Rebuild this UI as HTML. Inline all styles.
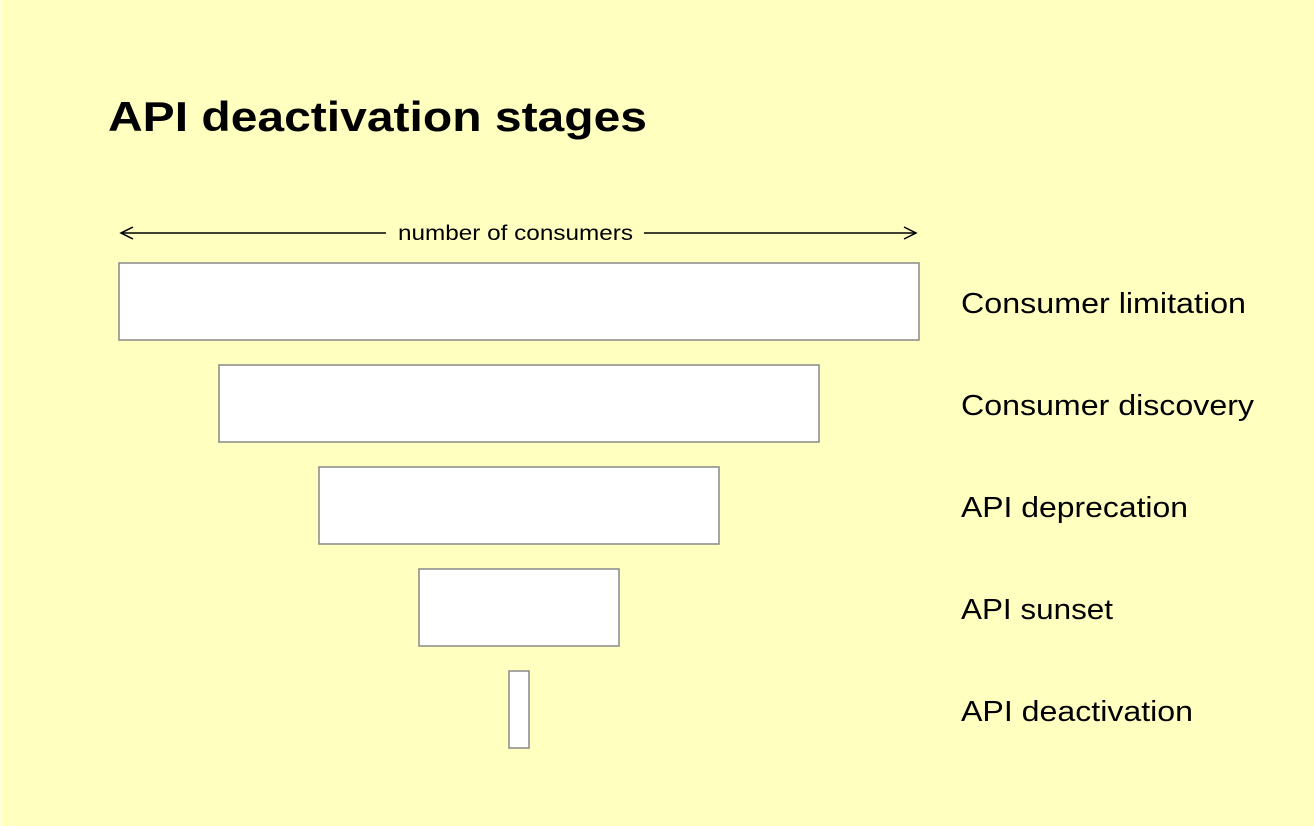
<!DOCTYPE html>
<html><head><style>
html,body{margin:0;padding:0;background:#ffffc0;}
svg{display:block}
</style></head><body>
<svg width="1314" height="826" viewBox="0 0 1314 826" xmlns="http://www.w3.org/2000/svg">
<rect x="0" y="0" width="1314" height="826" fill="#ffffc0"/>
<rect x="0" y="0" width="2" height="826" fill="#ffffe0"/>
<text x="108" y="131" textLength="539" lengthAdjust="spacingAndGlyphs" font-family="Liberation Sans, sans-serif" font-weight="bold" font-size="42" fill="#000">API deactivation stages</text>
<g stroke="#000" stroke-width="1.5" fill="none">
<line x1="121" y1="233" x2="386" y2="233"/>
<line x1="644" y1="233" x2="916" y2="233"/>
<polyline points="133,227 121,233 133,239"/>
<polyline points="904,227 916,233 904,239"/>
</g>
<text x="398" y="240" textLength="235" lengthAdjust="spacingAndGlyphs" font-family="Liberation Sans, sans-serif" font-size="21" fill="#000">number of consumers</text>
<g fill="#fff" stroke="#888" stroke-width="1.5">
<rect x="119" y="263" width="800" height="77"/>
<rect x="219" y="365" width="600" height="77"/>
<rect x="319" y="467" width="400" height="77"/>
<rect x="419" y="569" width="200" height="77"/>
<rect x="509" y="671" width="20" height="77"/>
</g>
<g font-family="Liberation Sans, sans-serif" font-size="29" fill="#000" lengthAdjust="spacingAndGlyphs">
<text x="961" y="313" textLength="285" lengthAdjust="spacingAndGlyphs">Consumer limitation</text>
<text x="961" y="415" textLength="293" lengthAdjust="spacingAndGlyphs">Consumer discovery</text>
<text x="961" y="517" textLength="227" lengthAdjust="spacingAndGlyphs">API deprecation</text>
<text x="961" y="619" textLength="152" lengthAdjust="spacingAndGlyphs">API sunset</text>
<text x="961" y="721" textLength="232" lengthAdjust="spacingAndGlyphs">API deactivation</text>
</g>
</svg>
</body></html>
